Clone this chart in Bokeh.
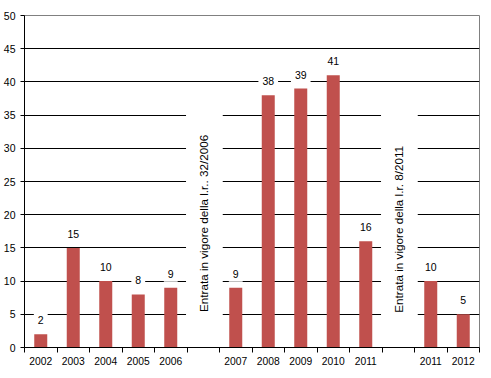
from math import pi
from bokeh.plotting import figure
from bokeh.models import FixedTicker, Range1d, ColumnDataSource
from bokeh.core.properties import value
from bokeh.embed import file_html
from bokeh.resources import INLINE

# ---- data ----
categories = ["2002", "2003", "2004", "2005", "2006", "",
              "2007", "2008", "2009", "2010", "2011", "",
              "2011", "2012"]
counts = [2, 15, 10, 8, 9, None, 9, 38, 39, 41, 16, None, 10, 5]
notes = ["Entrata in vigore della l.r.. 32/2006",
         "Entrata in vigore della l.r. 8/2011"]
note_slots = [5, 11]
y_ticks = [0, 5, 10, 15, 20, 25, 30, 35, 40, 45, 50]

FONT = "Liberation Sans"
BAR = "#C0504D"
FS = "10.3px"

n = len(categories)
bx = [i + 0.5 for i, c in enumerate(counts) if c is not None]
by = [c for c in counts if c is not None]
bars = ColumnDataSource(dict(x=bx, top=by, lbl=[str(c) for c in by]))

p = figure(width=491, height=378, output_backend="svg", toolbar_location=None,
           x_range=Range1d(0, n), y_range=Range1d(0, 50),
           min_border_left=23, min_border_right=12, min_border_top=15,
           min_border_bottom=31)
p.background_fill_color = "white"
p.border_fill_color = "white"
p.outline_line_color = "#808080"
p.outline_line_width = 1

# grid
p.xgrid.visible = False
p.ygrid.ticker = FixedTicker(ticks=y_ticks[1:-1])
p.ygrid.grid_line_color = "black"
p.ygrid.grid_line_width = 1

# y axis
p.yaxis.ticker = FixedTicker(ticks=y_ticks)
p.yaxis.axis_line_color = "black"
p.yaxis.major_tick_line_color = "black"
p.yaxis.major_tick_in = 0
p.yaxis.major_tick_out = 4
p.yaxis.minor_tick_line_color = None
p.yaxis.major_label_standoff = 5
p.yaxis.major_label_text_font = FONT
p.yaxis.major_label_text_font_size = "10.5px"
p.yaxis.major_label_text_color = "black"

# x axis: labels at slot centres, ticks at slot boundaries
centers = [i + 0.5 for i, c in enumerate(categories) if c]
p.xaxis.ticker = FixedTicker(ticks=centers, minor_ticks=list(range(n + 1)))
p.xaxis.major_label_overrides = {i + 0.5: c for i, c in enumerate(categories) if c}
p.xaxis.axis_line_color = "black"
p.xaxis.major_tick_line_color = None
p.xaxis.minor_tick_line_color = "black"
p.xaxis.minor_tick_in = 0
p.xaxis.minor_tick_out = 5
p.xaxis.major_label_standoff = 3
p.xaxis.major_label_text_font = FONT
p.xaxis.major_label_text_font_size = FS
p.xaxis.major_label_text_color = "black"

# bars
p.vbar(x="x", top="top", bottom=0, width=0.4, source=bars,
       fill_color=BAR, line_color=None)

# white boxes behind the notes (interrupt grid lines)
p.quad(left=[s - 0.03 for s in note_slots], right=[s + 1.1 for s in note_slots],
       bottom=0.3, top=37, fill_color="white", line_color=None)

# rotated notes
p.text(x=[s + 0.5 for s in note_slots], y=[18.7, 17.8], text=notes,
       angle=pi / 2, text_align="center", text_baseline="middle",
       text_font=value(FONT), text_font_size="11.7px", text_color="black")

# value labels with white background
p.text(x="x", y="top", text="lbl", source=bars, y_offset=-6,
       text_align="center", text_baseline="bottom",
       text_font=value(FONT), text_font_size="10.5px", text_color="black",
       background_fill_color="white", padding=4)

open("out.html", "w").write(file_html(p, INLINE))
